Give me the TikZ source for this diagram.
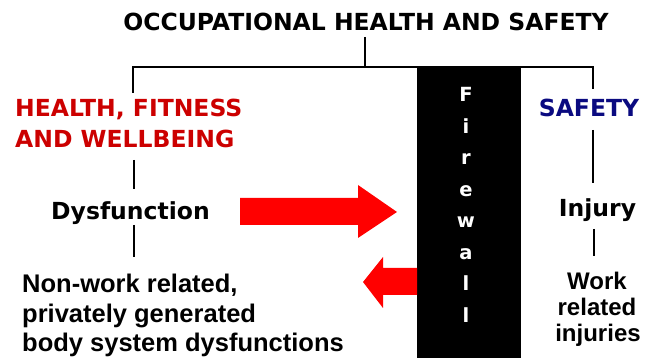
\documentclass[tikz,border=0pt]{standalone}
\usepackage{fontspec}
\newfontfamily\verd{DejaVu Sans}
\newfontfamily\arl{Liberation Sans}
\definecolor{hred}{RGB}{204,0,0}
\definecolor{snavy}{RGB}{10,10,128}
\begin{document}
\begin{tikzpicture}[x=1pt,y=1pt,
  vt/.style={font=\verd\bfseries\fontsize{23.5}{28}\selectfont, inner sep=0pt, anchor=base},
  arltext/.style={font=\arl\bfseries\fontsize{25.5}{30}\selectfont, inner sep=0pt, anchor=base west},
  rt/.style={font=\arl\bfseries\fontsize{24}{26}\selectfont, inner sep=0pt, anchor=base},
  fwl/.style={font=\verd\bfseries\fontsize{19.5}{20}\selectfont, inner sep=0pt, anchor=base, text=white},
  ln/.style={line width=2pt, black},
  arr/.style={fill=red, draw=none}]
\useasboundingbox (0,0) rectangle (648,358);
% firewall
\node[fill=black, minimum width=104pt, minimum height=290pt, anchor=south west, inner sep=0pt] (fw) at (417,0) {};
\foreach \c/\y [count=\i] in {F/256, i/224.5, r/193, e/161.5, w/130, a/98.5, l/67, l/35.5}
  \node[fwl] (fl\i) at (466,\y) {\c};
% texts
\node[vt] (title) at (366,327) {OCCUPATIONAL HEALTH AND SAFETY};
\node[vt, anchor=base west, text=hred] (hf1) at (15,241) {HEALTH, FITNESS};
\node[vt, anchor=base west, text=hred] (hf2) at (15,210) {AND WELLBEING};
\node[vt, text=snavy] (safety) at (589,241) {SAFETY};
\node[vt] (dys) at (130.5,138) {Dysfunction};
\node[vt] (inj) at (597.5,141) {Injury};
\node[arltext] (nw1) at (22,65) {Non-work related,};
\node[arltext] (nw2) at (22,35) {privately generated};
\node[arltext] (nw3) at (22,6) {body system dysfunctions};
\node[rt] (wr1) at (597,68) {Work};
\node[rt] (wr2) at (597,42) {related};
\node[rt] (wr3) at (598,16) {injuries};
% connector coordinates
\coordinate (t0) at (365,321);
\coordinate (t1) at (365,291);
\coordinate (l0) at (133,291);
\coordinate (l1) at (133,265);
\coordinate (r0) at (593,291);
\coordinate (r1) at (593,269);
\coordinate (l2) at (134,198);
\coordinate (l3) at (134,169);
\coordinate (l4) at (134,133);
\coordinate (l5) at (134,101);
\coordinate (r2) at (593,228);
\coordinate (r3) at (593,175);
\coordinate (r4) at (594,129);
\coordinate (r5) at (594,102);
\draw[ln] (t0) -- (t1);
\draw[ln] (l1) -- (l0) -- (r0) -- (r1);
\draw[ln] (l2) -- (l3);
\draw[ln] (l4) -- (l5);
\draw[ln] (r2) -- (r3);
\draw[ln] (r4) -- (r5);
% arrows
\fill[arr] (240,160) -- (358,160) -- (358,173) -- (397,146) -- (358,120) -- (358,133) -- (240,133) -- cycle;
\fill[arr] (363,76) -- (383,101) -- (383,90) -- (417,90) -- (417,63) -- (383,63) -- (383,50) -- cycle;
\end{tikzpicture}
\end{document}
